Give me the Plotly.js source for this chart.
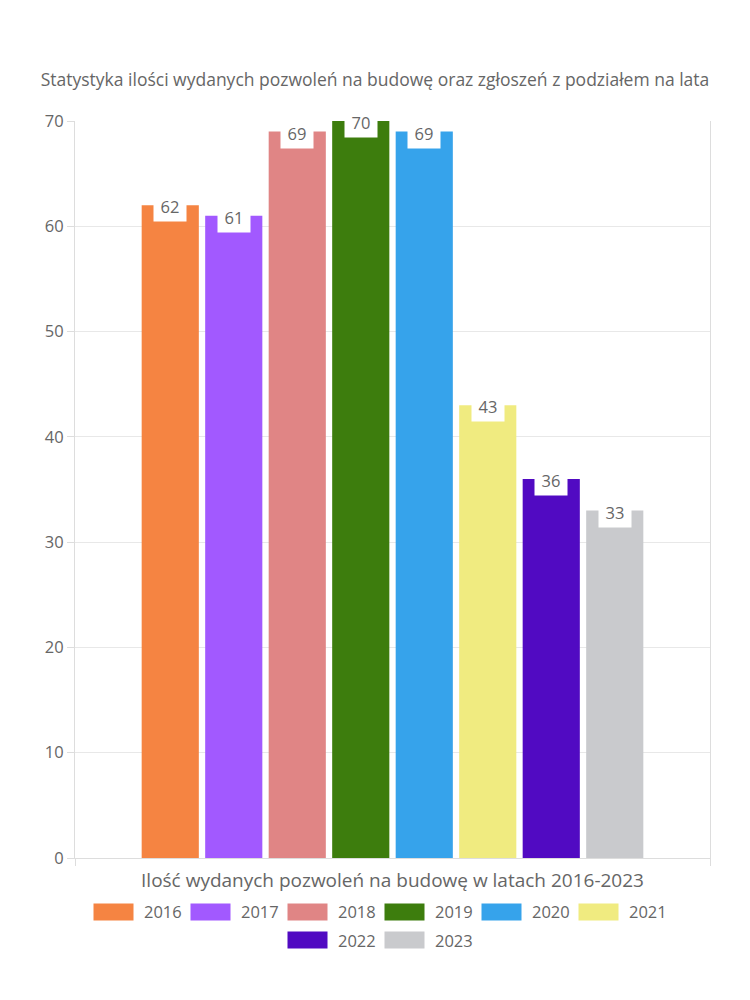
<!DOCTYPE html>
<html>
<head>
<meta charset="utf-8">
<script src="https://cdn.plot.ly/plotly-3.0.1.min.js"></script>
<style>body{margin:0;padding:0;background:#fff}#chart{width:750px;height:1000px}</style>
</head>
<body>
<div id="chart"></div>
<script>
const years = ['2016','2017','2018','2019','2020','2021','2022','2023'];
const permits = [62, 61, 69, 70, 69, 43, 36, 33];
const colors = ['#f58442','#a259ff','#e08585','#3d7d0d','#36a3eb','#f0eb80','#510ac2','#c9cacd'];
const category = 'Ilość wydanych pozwoleń na budowę w latach 2016-2023';
const chartTitle = 'Statystyka ilości wydanych pozwoleń na budowę oraz zgłoszeń z podziałem na lata';
const yTicks = [0, 10, 20, 30, 40, 50, 60, 70];

const FONT = '"Open Sans", Lato, sans-serif';
const TXT = '#666666';
const bargap = 0.2, bargroupgap = 0.1;

const traces = years.map((y, i) => ({
  type: 'bar', name: y, x: [category], y: [permits[i]],
  marker: {color: colors[i], line: {color: '#ffffff', width: 0}},
  showlegend: false, hoverinfo: 'skip'
}));

// value labels at the top of each bar, placed through the axis scale
const n = years.length;
const slot = (1 - bargap) / n;
const annotations = permits.map((v, i) => ({
  xref: 'x', yref: 'y', x: -(1 - bargap) / 2 + (i + 0.5) * slot, y: v,
  text: String(v), showarrow: false, bgcolor: '#ffffff',
  width: 30, height: 28, xanchor: 'center', yanchor: 'middle', yshift: -1,
  font: {family: FONT, size: 16.5, color: TXT}
}));

// custom legend (wide swatches)
const shapes = [];
const rows = [years.slice(0, 6), years.slice(6)];
const pitch = 97, sw = 40, sh = 17;
const rowY = [912, 940];
let idx = 0;
rows.forEach((row, r) => {
  const total = row.length * pitch - 11;
  let x0 = 379 - total / 2;
  row.forEach(label => {
    shapes.push({type: 'rect', xref: 'paper', yref: 'paper',
      x0: (x0 - 75) / 635, x1: (x0 + sw - 75) / 635,
      y0: (858 - rowY[r] - sh / 2) / 737, y1: (858 - rowY[r] + sh / 2) / 737,
      fillcolor: colors[idx], line: {width: 0}});
    annotations.push({xref: 'paper', yref: 'paper',
      x: (x0 + sw + 8 - 75) / 635, y: (858 - rowY[r]) / 737,
      xanchor: 'left', yanchor: 'middle', showarrow: false, text: label,
      font: {family: FONT, size: 16.5, color: TXT}});
    x0 += pitch; idx++;
  });
});

const layout = {
  width: 750, height: 1000,
  margin: {l: 75, r: 40, t: 121, b: 142},
  paper_bgcolor: '#ffffff', plot_bgcolor: '#ffffff',
  font: {family: FONT, color: TXT},
  title: {text: chartTitle, x: 0.5, xanchor: 'center', y: 0.92, yanchor: 'middle',
    font: {family: FONT, size: 17.5, color: TXT}},
  barmode: 'group', bargap: bargap, bargroupgap: bargroupgap,
  showlegend: false,
  xaxis: {type: 'category', showgrid: false, showline: true, linecolor: '#dddddd', linewidth: 1,
    mirror: false, ticks: 'outside', tickson: 'boundaries', ticklen: 7, tickcolor: '#dddddd',
    ticklabelstandoff: 5,
    tickfont: {family: FONT, size: 19, color: TXT}, zeroline: false, fixedrange: true},
  yaxis: {range: [0, 70], tickvals: yTicks, ticktext: yTicks.map(String),
    showgrid: true, gridcolor: '#e8e8e8', showline: true, linecolor: '#dddddd', mirror: true,
    ticks: 'outside', ticklen: 7, tickcolor: '#dddddd', zeroline: false,
    tickfont: {family: FONT, size: 16.5, color: TXT}, fixedrange: true},
  annotations: annotations, shapes: shapes
};

Plotly.newPlot('chart', traces, layout, {displayModeBar: false, staticPlot: true});
</script>
</body>
</html>
